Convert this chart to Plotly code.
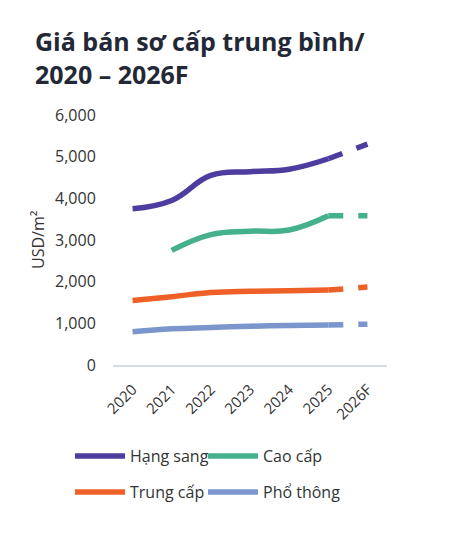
import plotly.graph_objects as go

years = ["2020", "2021", "2022", "2023", "2024", "2025", "2026F"]
series_names = ["Hạng sang", "Cao cấp", "Trung cấp", "Phổ thông"]
hang_sang = [3750, 3950, 4550, 4640, 4700, 4950, 5300]
cao_cap = [None, 2750, 3130, 3210, 3240, 3580, 3580]
trung_cap = [1550, 1640, 1740, 1770, 1780, 1800, 1870]
pho_thong = [800, 870, 900, 930, 950, 960, 980]
colors = ["#4e3c9e", "#45b08c", "#ee6028", "#7b96cc"]
y_ticks = [0, 1000, 2000, 3000, 4000, 5000, 6000]

values = [hang_sang, cao_cap, trung_cap, pho_thong]
legend_ids = ["legend", "legend2", "legend3", "legend4"]
legend_pos = [(70, 439), (203, 439), (70, 475), (203, 475)]

fig = go.Figure()
for name, vals, col, lg in zip(series_names, values, colors, legend_ids):
    xs = [y for y, v in zip(years[:-1], vals[:-1]) if v is not None]
    ys = [v for v in vals[:-1] if v is not None]
    fig.add_trace(go.Scatter(
        x=xs, y=ys, mode="lines", name=name, legend=lg,
        line=dict(color=col, width=5.5, shape="spline", smoothing=1.2),
        hoverinfo="skip"))
    fig.add_trace(go.Scatter(
        x=years[-2:], y=vals[-2:], mode="lines", name=name + " F",
        showlegend=False,
        line=dict(color=col, width=5.5, dash="15px,15px"),
        hoverinfo="skip"))

legends = {}
for lg, (lx, ly) in zip(legend_ids, legend_pos):
    legends[lg] = dict(
        orientation="h", x=lx / 459, xanchor="left", xref="container",
        y=1 - ly / 534, yanchor="top", yref="container",
        itemwidth=50, font=dict(size=16, color="#333333"),
        bgcolor="rgba(0,0,0,0)")

fig.update_layout(
    width=459, height=534,
    margin=dict(l=113, r=72, t=115, b=169),
    paper_bgcolor="white", plot_bgcolor="white",
    font=dict(family="Open Sans", size=16, color="#333333"),
    title=dict(
        text="Giá bán sơ cấp trung bình/<br>2020 – 2026F",
        font=dict(family="Open Sans", size=25, color="#232836", weight=700),
        x=35 / 459, xanchor="left", xref="container",
        y=1 - 51 / 534, yanchor="top", yref="container"),
    xaxis=dict(
        type="category", categoryorder="array", categoryarray=years,
        range=[-0.5, 6.5],
        showgrid=False, zeroline=False,
        showline=True, linecolor="#d6dce4", linewidth=2,
        tickangle=-45, ticks="outside", ticklen=8,
        tickcolor="rgba(0,0,0,0)",
        tickfont=dict(size=15, color="#333333")),
    yaxis=dict(
        range=[0, 6000], tickvals=y_ticks, tickformat=",",
        showgrid=False, zeroline=False, showline=False,
        ticks="outside", ticklen=13, tickcolor="rgba(0,0,0,0)",
        tickfont=dict(size=16, color="#333333")),
    annotations=[dict(
        text="USD/m²", textangle=-90,
        x=(38 - 113) / 274, y=(365 - 240) / 250,
        xanchor="center", yanchor="middle",
        xref="paper", yref="paper", showarrow=False,
        font=dict(size=16, color="#333333"))],
    **legends,
)

fig.write_html("out.html")
